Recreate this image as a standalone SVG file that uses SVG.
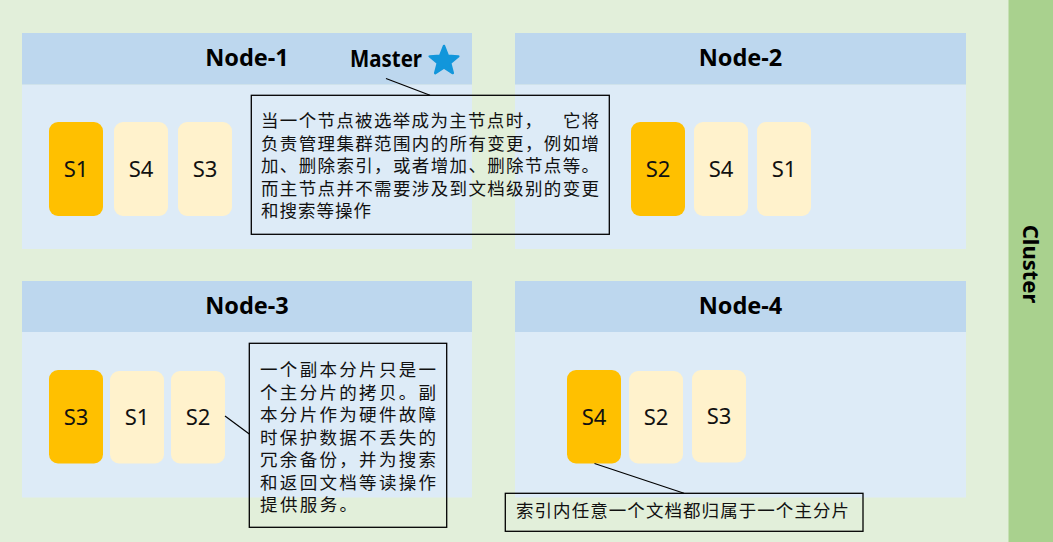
<svg xmlns="http://www.w3.org/2000/svg" width="1053" height="542" viewBox="0 0 1053 542">
<style>
.hdr{fill:#BDD7EE}
.body{fill:#DDEBF7}
.pri{fill:#FFC000}
.rep{fill:#FFF2CC}
.title{font-family:"Noto Sans","Liberation Sans",sans-serif;font-weight:bold;font-size:23.5px;fill:#000;text-anchor:middle}
.sl{font-family:"Noto Sans","Liberation Sans",sans-serif;font-size:22px;fill:#111;text-anchor:middle}
.note{font-family:"Liberation Sans","Noto Sans CJK SC",sans-serif;font-size:17.5px;fill:#111}
.box{fill:none;stroke:#000;stroke-width:1.3}
.lead{stroke:#000;stroke-width:1.2;fill:none}
</style>
<rect x="0" y="0" width="1053" height="542" fill="#E2EFDA"/>
<g id="cluster">
<rect x="1008.5" y="0" width="44.5" height="542" fill="#A9D18E"/>
<text transform="translate(1023,264) rotate(90)" font-family="Noto Sans, Liberation Sans, sans-serif" font-weight="bold" font-size="22" text-anchor="middle" fill="#000">Cluster</text>
</g>
<g id="node-1">
<rect class="body" x="22" y="84.5" width="450" height="164.5"/>
<rect class="hdr" x="22" y="33" width="450" height="51.5"/>
<text class="title" x="247" y="66">Node-1</text>
<text x="350" y="67" font-family="Noto Sans, Liberation Sans, sans-serif" font-weight="bold" font-size="23.5" fill="#000" textLength="72" lengthAdjust="spacingAndGlyphs">Master</text>
<polygon points="444,46 447.8,55.7 458.3,56.4 450.2,63 452.8,73.1 444,67.5 435.2,73.1 437.8,63 429.7,56.4 440.2,55.7" fill="#1296DB" stroke="#1296DB" stroke-width="2.5" stroke-linejoin="round"/>
<rect class="pri" x="49" y="122" width="54" height="94" rx="9"/>
<text class="sl" x="76" y="177">S1</text>
<rect class="rep" x="114" y="122" width="54" height="94" rx="9"/>
<text class="sl" x="141" y="177">S4</text>
<rect class="rep" x="178" y="122" width="54" height="94" rx="9"/>
<text class="sl" x="205" y="177">S3</text>
</g>
<g id="node-2">
<rect class="body" x="515" y="84.5" width="451" height="164.5"/>
<rect class="hdr" x="515" y="33" width="451" height="51.5"/>
<text class="title" x="740.5" y="66">Node-2</text>
<rect class="pri" x="631" y="122" width="54" height="94" rx="9"/>
<text class="sl" x="658" y="177">S2</text>
<rect class="rep" x="694" y="122" width="54" height="94" rx="9"/>
<text class="sl" x="721" y="177">S4</text>
<rect class="rep" x="757" y="122" width="54" height="94" rx="9"/>
<text class="sl" x="784" y="177">S1</text>
</g>
<g id="node-3">
<rect class="body" x="22" y="332" width="450" height="165.5"/>
<rect class="hdr" x="22" y="281" width="450" height="51"/>
<text class="title" x="247" y="314">Node-3</text>
<rect class="pri" x="49" y="370" width="54" height="93.5" rx="9"/>
<text class="sl" x="76" y="425">S3</text>
<rect class="rep" x="110" y="371" width="54" height="92.5" rx="9"/>
<text class="sl" x="137" y="425">S1</text>
<rect class="rep" x="171" y="371" width="54" height="92.5" rx="9"/>
<text class="sl" x="198" y="425">S2</text>
</g>
<g id="node-4">
<rect class="body" x="515" y="332" width="451" height="165.5"/>
<rect class="hdr" x="515" y="281" width="451" height="51"/>
<text class="title" x="740.5" y="314">Node-4</text>
<rect class="pri" x="567" y="370" width="54" height="93.5" rx="9"/>
<text class="sl" x="594" y="425">S4</text>
<rect class="rep" x="629" y="371" width="54" height="92.5" rx="9"/>
<text class="sl" x="656" y="425">S2</text>
<rect class="rep" x="692" y="370" width="54" height="92.5" rx="9"/>
<text class="sl" x="719" y="424">S3</text>
</g>
<g id="connectors">
<line class="lead" x1="386" y1="78.5" x2="430" y2="95.3"/>
<line class="lead" x1="225" y1="416" x2="249.3" y2="434"/>
<line class="lead" x1="594.5" y1="463.5" x2="684" y2="493.3"/>
</g>
<g id="note-master">
<rect class="box" x="251.3" y="95.3" width="358" height="139"/>
<text class="note" x="261" y="127" textLength="281" lengthAdjust="spacing">当一个节点被选举成为主节点时，</text>
<text class="note" x="563" y="127" textLength="36" lengthAdjust="spacing">它将</text>
<text class="note" x="261" y="149.5" textLength="338" lengthAdjust="spacing">负责管理集群范围内的所有变更，例如增</text>
<text class="note" x="261" y="172" textLength="338" lengthAdjust="spacing">加、删除索引，或者增加、删除节点等。</text>
<text class="note" x="261" y="194.5" textLength="338" lengthAdjust="spacing">而主节点并不需要涉及到文档级别的变更</text>
<text class="note" x="261" y="217" textLength="110" lengthAdjust="spacing">和搜索等操作</text>
</g>
<g id="note-replica">
<rect class="box" x="249.3" y="343.3" width="197.4" height="184"/>
<text class="note" x="260" y="376" textLength="176" lengthAdjust="spacing">一个副本分片只是一</text>
<text class="note" x="260" y="398.5" textLength="176" lengthAdjust="spacing">个主分片的拷贝。副</text>
<text class="note" x="260" y="421" textLength="176" lengthAdjust="spacing">本分片作为硬件故障</text>
<text class="note" x="260" y="443.5" textLength="176" lengthAdjust="spacing">时保护数据不丢失的</text>
<text class="note" x="260" y="466" textLength="176" lengthAdjust="spacing">冗余备份，并为搜索</text>
<text class="note" x="260" y="488.5" textLength="176" lengthAdjust="spacing">和返回文档等读操作</text>
<text class="note" x="260" y="511" textLength="97" lengthAdjust="spacing">提供服务。</text>
</g>
<g id="note-primary">
<rect class="box" x="505.3" y="493.3" width="357.7" height="38"/>
<text class="note" x="516" y="517" textLength="333" lengthAdjust="spacing">索引内任意一个文档都归属于一个主分片</text>
</g>
</svg>
